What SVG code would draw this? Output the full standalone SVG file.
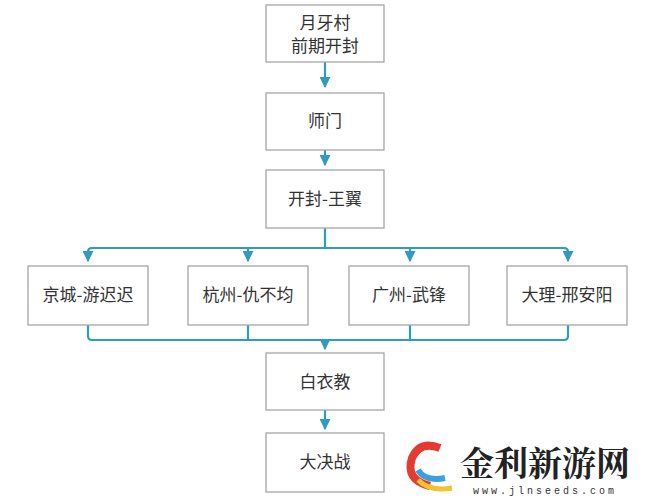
<svg xmlns="http://www.w3.org/2000/svg" width="651" height="500" viewBox="0 0 651 500">
<style>
.b{fill:#fff;stroke:#a6a6a6;stroke-width:1.3}
.t{font-family:"Noto Sans CJK SC",sans-serif;font-size:17px;fill:#333;text-anchor:middle}
.c{fill:none;stroke:#2e9bbf;stroke-width:2.2}
</style>
<defs><marker id="a" viewBox="0 0 10 10" refX="9" refY="5" markerWidth="5" markerHeight="5" orient="auto"><path d="M0,0L10,5L0,10z" fill="#2e9bbf"/></marker></defs>
<rect width="651" height="500" fill="#fff"/>
<g id="connectors">
<path class="c" d="M325,62V87" marker-end="url(#a)"/>
<path class="c" d="M325,150V165" marker-end="url(#a)"/>
<path class="c" d="M325,228V248M92,248H564"/>
<path class="c" d="M92,248Q88,248 88,252V261" marker-end="url(#a)"/>
<path class="c" d="M564,248Q568,248 568,252V261" marker-end="url(#a)"/>
<path class="c" d="M248,248V261" marker-end="url(#a)"/>
<path class="c" d="M410,248V261" marker-end="url(#a)"/>
<path class="c" d="M88,325V336Q88,340 92,340H564Q568,340 568,336V325M248,325V340M410,325V340"/>
<path class="c" d="M325,340V349" marker-end="url(#a)"/>
<path class="c" d="M325,410V429" marker-end="url(#a)"/>
</g>
<g id="n1"><rect class="b" x="266" y="5" width="118" height="57"/><text class="t" x="325" y="29">月牙村</text><text class="t" x="325" y="52">前期开封</text></g>
<g id="n2"><rect class="b" x="266" y="93" width="118" height="57"/><text class="t" x="325" y="127">师门</text></g>
<g id="n3"><rect class="b" x="266" y="170" width="118" height="58"/><text class="t" x="325" y="205">开封-王翼</text></g>
<g id="n4"><rect class="b" x="28" y="266" width="120" height="59"/><text class="t" x="88" y="301">京城-游迟迟</text></g>
<g id="n5"><rect class="b" x="188" y="266" width="120" height="59"/><text class="t" x="248" y="301">杭州-仇不均</text></g>
<g id="n6"><rect class="b" x="349" y="266" width="120" height="59"/><text class="t" x="409" y="301">广州-武锋</text></g>
<g id="n7"><rect class="b" x="507" y="266" width="120" height="59"/><text class="t" x="567" y="301">大理-邢安阳</text></g>
<g id="n8"><rect class="b" x="266" y="353" width="118" height="57"/><text class="t" x="325" y="388">白衣教</text></g>
<g id="n9"><rect class="b" x="266" y="433" width="118" height="59"/><text class="t" x="325" y="468">大决战</text></g>
<g id="watermark">
<path d="M440,448Q420,440 412,458Q405,480 430,486" fill="none" stroke="#e53a2f" stroke-width="8"/>
<path d="M418,470Q425,482 445,478" fill="none" stroke="#3aa0e0" stroke-width="6"/>
<path d="M418,480Q430,492 452,488" fill="none" stroke="#f2c230" stroke-width="5"/>
<text x="545" y="476" font-family="Noto Serif CJK SC,Noto Sans CJK SC,serif" font-weight="bold" font-size="34" fill="#222" text-anchor="middle">金利新游网</text>
<text x="545" y="494" font-family="Liberation Mono,monospace" font-size="10" fill="#333" text-anchor="middle" letter-spacing="3">www.jlnseeds.com</text>
</g>
</svg>
